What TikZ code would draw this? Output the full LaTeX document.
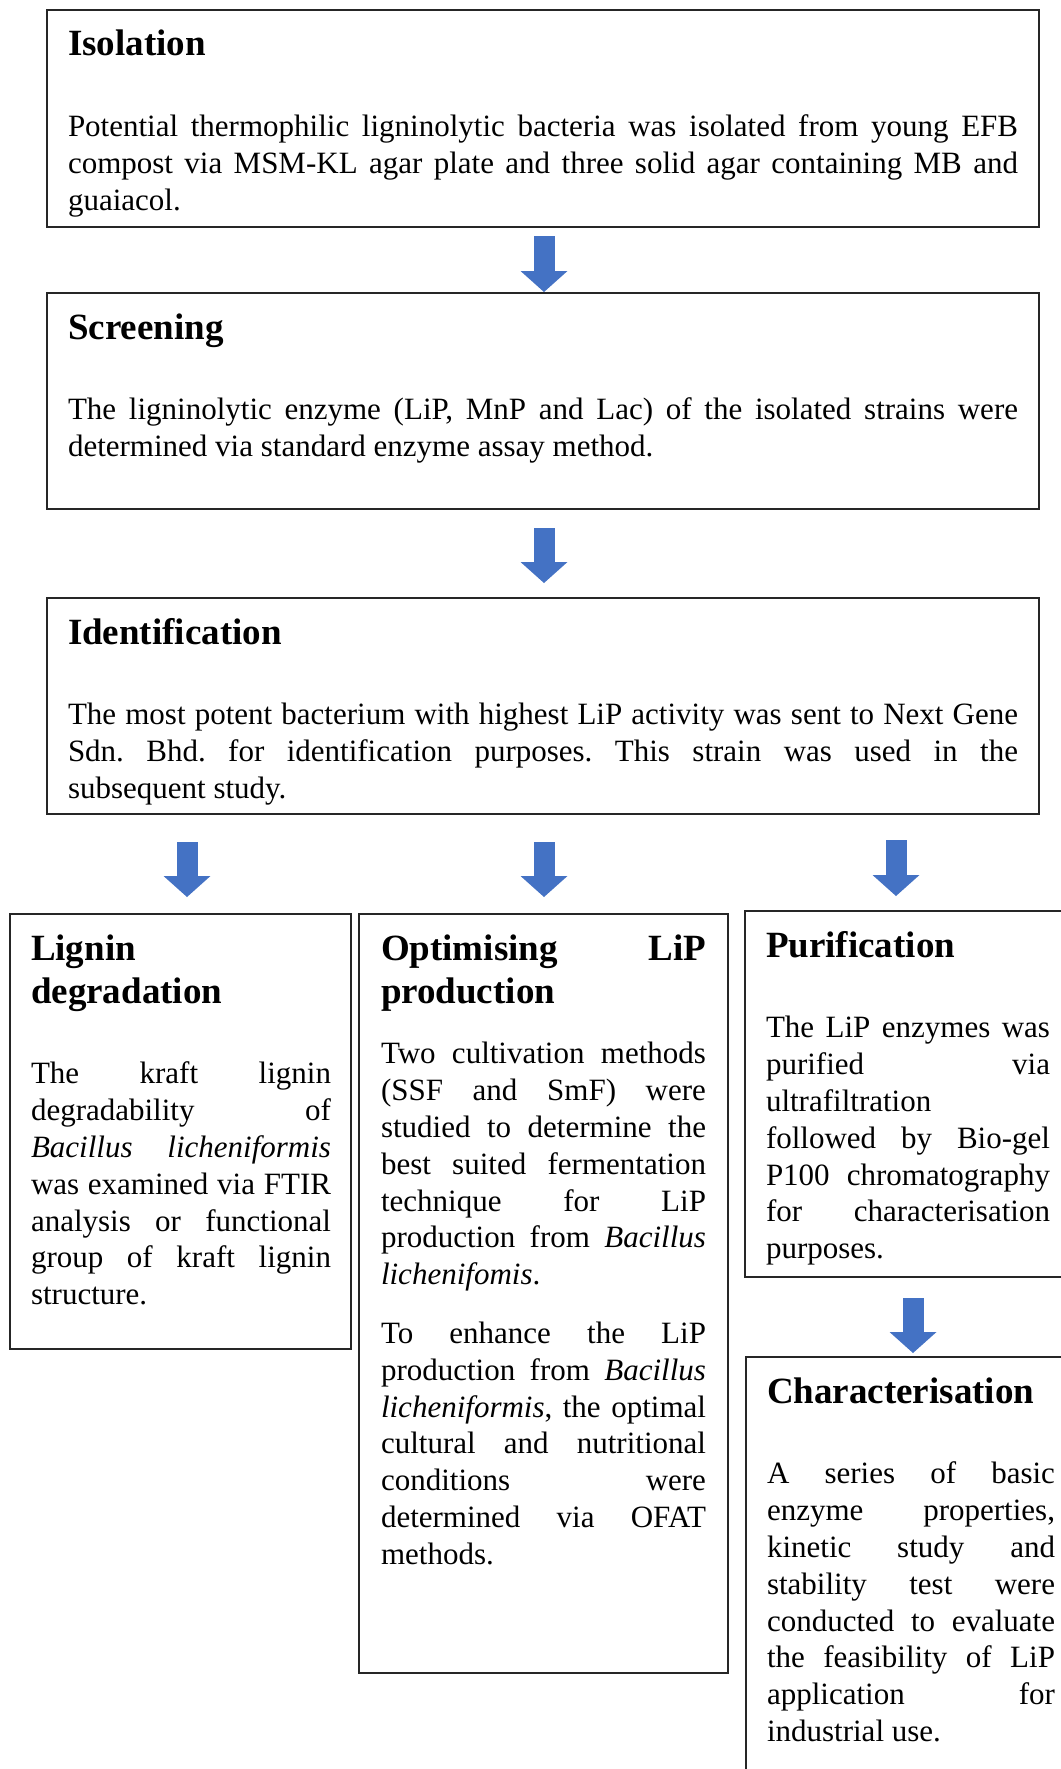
\documentclass[tikz,border=0pt]{standalone}
\usepackage{fontspec}
\setmainfont{Liberation Serif}
\usetikzlibrary{positioning,calc,arrows.meta}

\definecolor{flowblue}{HTML}{4472C4}
\newcommand{\headfont}{\fontsize{37pt}{43pt}\selectfont\bfseries}
\newcommand{\bodyfont}{\fontsize{31pt}{36.8pt}\selectfont\parindent=0pt\parskip=0pt\tolerance=10000\hyphenpenalty=10000\exhyphenpenalty=10000\frenchspacing\relax}
\newcommand{\stagehead}[2][44pt]{{\headfont\rule{0pt}{30pt}#2\par}\vskip#1\relax}

\begin{document}
\begin{tikzpicture}[x=1pt, y=-1pt,
  stage/.style={draw=black!85, line width=1.5pt, inner sep=0pt, outer sep=0pt, anchor=north west},
  txt/.style={inner sep=0pt, outer sep=0pt, align=justify, font=\bodyfont},
  flow/.style={draw=flowblue, line width=21pt, -{Triangle[width=47pt,length=21pt,line width=0pt]}}
]
\useasboundingbox (0,0) rectangle (1060,1769);

% boxes
\node[stage, minimum width=992pt, minimum height=217pt] (iso) at (47,10) {};
\node[stage, minimum width=992pt, minimum height=216pt] (scr) at (47,293) {};
\node[stage, minimum width=992pt, minimum height=216pt] (idn) at (47,598) {};
\node[stage, minimum width=341pt, minimum height=435pt] (lig) at (10,914) {};
\node[stage, minimum width=369pt, minimum height=759pt] (opt) at (359,914) {};
\node[stage, minimum width=330pt, minimum height=366pt] (pur) at (745,911) {};
\node[stage, minimum width=329pt, minimum height=428pt] (chr) at (746,1357) {};

% texts
\node[txt, text width=950pt, below right=16pt and 21pt of iso.north west] (isotxt)
  {\stagehead{Isolation}Potential thermophilic ligninolytic bacteria was isolated from young EFB\linebreak
   compost via MSM-KL agar plate and three solid agar containing MB and\linebreak
   guaiacol.};
\node[txt, text width=950pt, below right=16pt and 21pt of scr.north west] (scrtxt)
  {\stagehead{Screening}The ligninolytic enzyme (LiP, MnP and Lac) of the isolated strains were\linebreak
   determined via standard enzyme assay method.};
\node[txt, text width=950pt, below right=16pt and 21pt of idn.north west] (idntxt)
  {\stagehead{Identification}The most potent bacterium with highest LiP activity was sent to Next Gene\linebreak
   Sdn. Bhd. for identification purposes. This strain was used in the\linebreak
   subsequent study.};
\node[txt, text width=300pt, below right=16pt and 21pt of lig.north west] (ligtxt)
  {\stagehead{Lignin\linebreak degradation}The kraft lignin\linebreak
   degradability of\linebreak
   \textit{Bacillus licheniformis}\linebreak
   was examined via FTIR\linebreak
   analysis or functional\linebreak
   group of kraft lignin\linebreak
   structure.};
\node[txt, text width=325pt, below right=16pt and 22pt of opt.north west] (opttxt)
  {\stagehead[24pt]{Optimising LiP\linebreak production}Two cultivation methods\linebreak
   (SSF and SmF) were\linebreak
   studied to determine the\linebreak
   best suited fermentation\linebreak
   technique for LiP\linebreak
   production from \textit{Bacillus}\linebreak
   \textit{lichenifomis}.\par\vskip22pt
   To enhance the LiP\linebreak
   production from \textit{Bacillus}\linebreak
   \textit{licheniformis}, the optimal\linebreak
   cultural and nutritional\linebreak
   conditions were\linebreak
   determined via OFAT\linebreak
   methods.};
\node[txt, text width=284pt, below right=16pt and 21pt of pur.north west] (purtxt)
  {\stagehead{Purification}The LiP enzymes was\linebreak
   purified via\linebreak
   ultrafiltration\linebreak
   followed by Bio-gel\linebreak
   P100 chromatography\linebreak
   for characterisation\linebreak
   purposes.};
\node[txt, text width=288pt, below right=16pt and 21pt of chr.north west] (chrtxt)
  {\stagehead{Characterisation}A series of basic\linebreak
   enzyme properties,\linebreak
   kinetic study and\linebreak
   stability test were\linebreak
   conducted to evaluate\linebreak
   the feasibility of LiP\linebreak
   application for\linebreak
   industrial use.};

% arrows
\draw[flow] ($(iso.south)+(1,9)$) -- ($(scr.north)+(1,-1)$);
\draw[flow] ($(scr.south)+(1,19)$) -- ($(idn.north)+(1,-15)$);
\draw[flow] ($(idn.south -| lig.north)+(6.5,28)$) -- ($(lig.north)+(6.5,-17)$);
\draw[flow] ($(idn.south -| opt.north)+(0.5,28)$) -- ($(opt.north)+(0.5,-17)$);
\draw[flow] ($(idn.south -| pur.north)+(-14,26)$) -- ($(pur.north)+(-14,-15)$);
\draw[flow] ($(pur.south)+(3,21)$) -- ($(chr.north)+(2.5,-4)$);
\end{tikzpicture}
\end{document}
